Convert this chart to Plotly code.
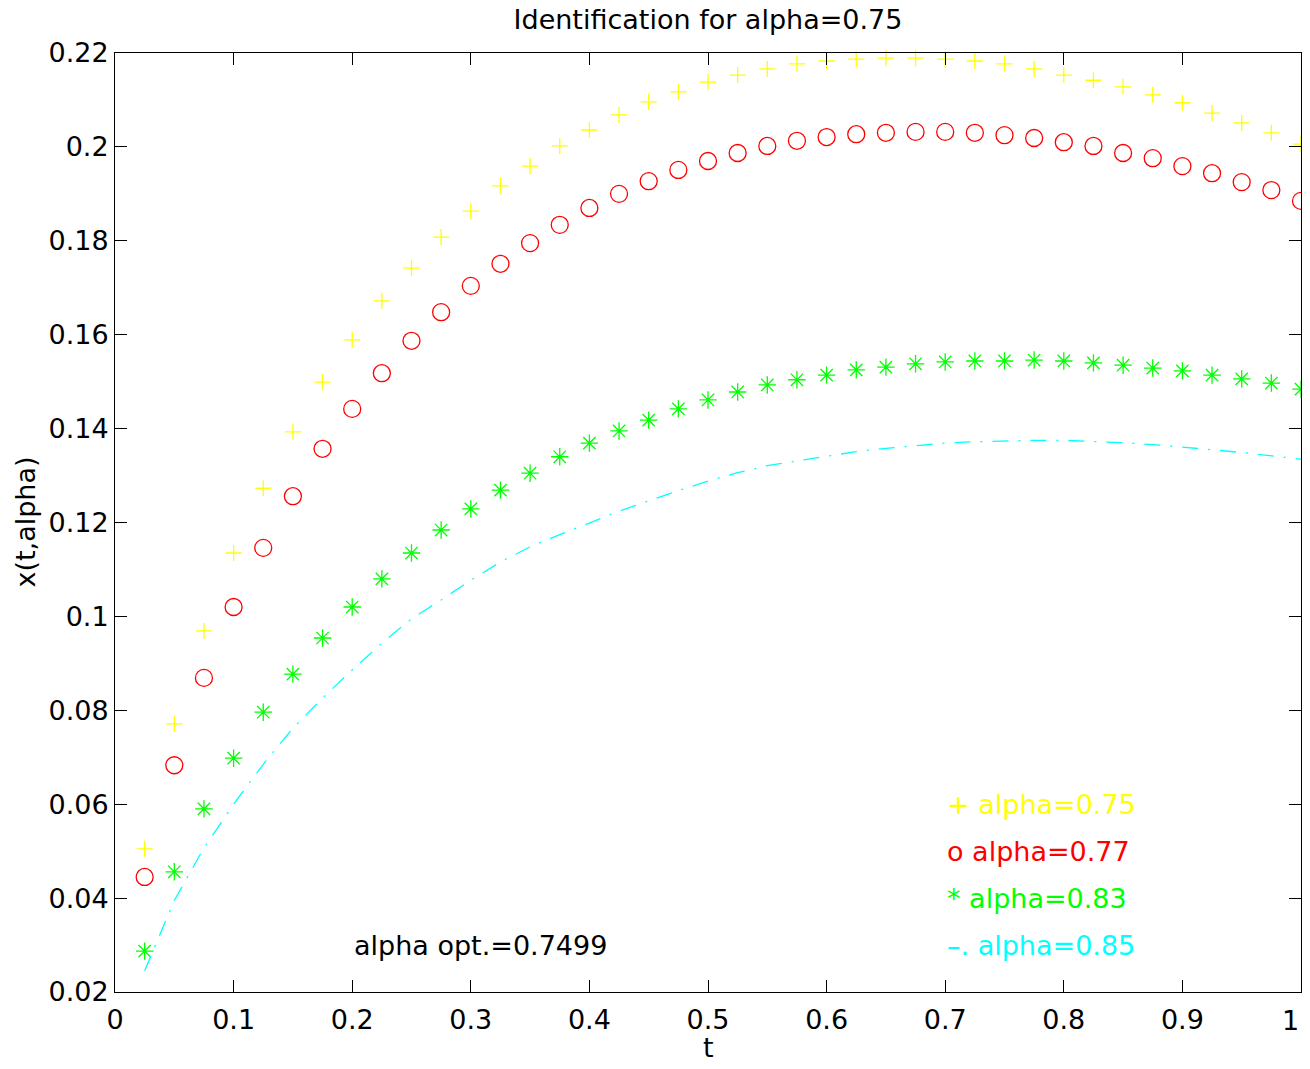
import plotly.graph_objects as go

# grille en t (pas de 0.025)
t = [round(0.025 * k, 3) for k in range(1, 41)]

x_075 = [0.0505, 0.0771, 0.0969, 0.1135, 0.1273, 0.1393, 0.1499, 0.1589, 0.1672, 0.1742,
         0.1808, 0.1863, 0.1917, 0.1959, 0.2002, 0.2036, 0.2068, 0.2096, 0.2117, 0.2138,
         0.2153, 0.2166, 0.2177, 0.2183, 0.2187, 0.2189, 0.2189, 0.2187, 0.2183, 0.2177,
         0.2166, 0.2153, 0.2142, 0.2128, 0.2111, 0.2094, 0.2072, 0.2051, 0.2030, 0.2006]

x_077 = [0.0445, 0.0683, 0.0869, 0.1020, 0.1146, 0.1256, 0.1357, 0.1442, 0.1518, 0.1587,
         0.1648, 0.1704, 0.1751, 0.1795, 0.1834, 0.1870, 0.1900, 0.1927, 0.1951, 0.1970,
         0.1987, 0.2002, 0.2013, 0.2021, 0.2027, 0.2030, 0.2032, 0.2032, 0.2030, 0.2025,
         0.2019, 0.2010, 0.2002, 0.1987, 0.1976, 0.1959, 0.1944, 0.1925, 0.1908, 0.1885]

x_083 = [0.0287, 0.0456, 0.0590, 0.0698, 0.0796, 0.0877, 0.0954, 0.1020, 0.1080, 0.1135,
         0.1184, 0.1229, 0.1269, 0.1305, 0.1340, 0.1369, 0.1395, 0.1418, 0.1442, 0.1461,
         0.1478, 0.1493, 0.1504, 0.1514, 0.1525, 0.1531, 0.1538, 0.1542, 0.1544, 0.1544,
         0.1546, 0.1544, 0.1540, 0.1535, 0.1529, 0.1523, 0.1514, 0.1506, 0.1497, 0.1484]

x_085 = [0.0245, 0.0395, 0.0507, 0.0600, 0.0685, 0.0762, 0.0826, 0.0886, 0.0943, 0.0995,
         0.1035, 0.1077, 0.1116, 0.1148, 0.1174, 0.1199, 0.1224, 0.1246, 0.1268, 0.1288,
         0.1306, 0.1321, 0.1331, 0.1341, 0.1351, 0.1358, 0.1364, 0.1369, 0.1372, 0.1374,
         0.1375, 0.1375, 0.1373, 0.1370, 0.1366, 0.1361, 0.1355, 0.1349, 0.1342, 0.1335]

x_ticks = [0, 0.1, 0.2, 0.3, 0.4, 0.5, 0.6, 0.7, 0.8, 0.9, 1]
x_ticktext = ["0", "0.1", "0.2", "0.3", "0.4", "0.5", "0.6", "0.7", "0.8", "0.9", "1"]
y_ticks = [0.02, 0.04, 0.06, 0.08, 0.1, 0.12, 0.14, 0.16, 0.18, 0.2, 0.22]
y_ticktext = ["0.02", "0.04", "0.06", "0.08", "0.1", "0.12", "0.14", "0.16", "0.18", "0.2", "0.22"]

legend_labels = ["+ alpha=0.75", "o alpha=0.77", "* alpha=0.83", "–. alpha=0.85"]
legend_y = [0.06, 0.05, 0.04, 0.03]
colors = ["#ffff00", "#ff0000", "#00ff00", "#00ffff"]

FONT = "DejaVu Sans"

fig = go.Figure()

fig.add_trace(go.Scatter(x=t, y=x_075, mode="markers", cliponaxis=False,
                         marker=dict(symbol="cross-thin-open", size=11.5, color=colors[0],
                                     line=dict(width=1.3, color=colors[0]))))
fig.add_trace(go.Scatter(x=t, y=x_077, mode="markers", cliponaxis=False,
                         marker=dict(symbol="circle-open", size=17, color=colors[1],
                                     line=dict(width=1.3, color=colors[1]))))
fig.add_trace(go.Scatter(x=t, y=x_083, mode="markers", cliponaxis=False,
                         marker=dict(symbol="asterisk-open", size=14.5, color=colors[2],
                                     line=dict(width=1.3, color=colors[2]))))
fig.add_trace(go.Scatter(x=t, y=x_085, mode="lines",
                         line=dict(color=colors[3], width=1.3, dash="16px,10px,2px,10px")))

for label, yy, c in zip(legend_labels, legend_y, colors):
    fig.add_annotation(x=0.7, y=yy, text=label, showarrow=False, xanchor="left",
                       yanchor="middle", font=dict(family=FONT, size=27, color=c))

fig.add_annotation(x=0.2, y=0.03, text="alpha opt.=0.7499", showarrow=False,
                   xanchor="left", yanchor="middle", font=dict(family=FONT, size=27, color="black"))

# dernier label de l'axe x : collé au bord droit pour rester visible
fig.add_annotation(x=x_ticks[-1], y=0, xref="x", yref="paper", yshift=-28,
                   text=x_ticktext[-1], showarrow=False, xanchor="right", yanchor="middle",
                   font=dict(family=FONT, size=27, color="black"))

# titres des axes
fig.add_annotation(x=0.5, y=0, xref="paper", yref="paper", yshift=-55, text="t",
                   showarrow=False, xanchor="center", yanchor="middle",
                   font=dict(family=FONT, size=27, color="black"))
fig.add_annotation(x=0, y=0.5, xref="paper", yref="paper", xshift=-90, text="x(t,alpha)",
                   textangle=-90, showarrow=False, xanchor="center", yanchor="middle",
                   font=dict(family=FONT, size=27, color="black"))

# la page a une marge de 8px : la figure doit tenir sans barre de défilement
fig.update_layout(
    width=1294, height=1053,
    margin=dict(l=107, r=1, t=45, b=69, autoexpand=False),
    paper_bgcolor="white", plot_bgcolor="white",
    showlegend=False,
    font=dict(family=FONT, size=27, color="black"),
    title=dict(text="Identification for alpha=0.75", x=0.5, xref="paper", xanchor="center",
               y=1 - 12 / 1053, yref="container", yanchor="middle",
               font=dict(family=FONT, size=27, color="black")),
)

axis_style = dict(showgrid=False, zeroline=False, showline=True, linecolor="black", linewidth=1,
                  mirror="ticks", ticks="inside", ticklen=12, tickwidth=1, tickcolor="black",
                  tickfont=dict(family=FONT, size=27, color="black"))

fig.update_xaxes(range=[0, 1], tickvals=x_ticks, ticktext=x_ticktext[:-1] + [""],
                 ticklabelstandoff=4, **axis_style)
fig.update_yaxes(range=[0.02, 0.22], tickvals=y_ticks, ticktext=y_ticktext, **axis_style)

fig.write_html("out.html")
